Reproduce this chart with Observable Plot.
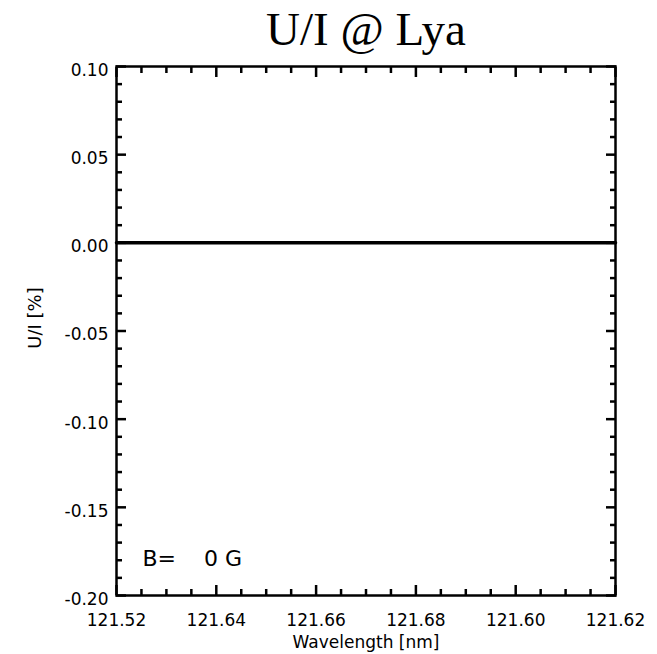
<!DOCTYPE html>
<html>
<head>
<meta charset="utf-8">
<script src="https://cdn.jsdelivr.net/npm/d3@7"></script>
<script src="https://cdn.jsdelivr.net/npm/@observablehq/plot@0.6"></script>
<style>
  html, body { margin: 0; padding: 0; background: #fff; }
  #chart svg { display: block; }
</style>
</head>
<body>
<div id="chart"></div>
<script>
// Data
const wavelength = [121.52, 121.545, 121.57, 121.595, 121.62];
const uOverI = [0, 0, 0, 0, 0];

const xTicks = [121.52, 121.54, 121.56, 121.58, 121.60, 121.62];
const xTickLabels = ["121.52", "121.64", "121.66", "121.68", "121.60", "121.62"];
const xMinorTicks = [121.525, 121.53, 121.535, 121.545, 121.55, 121.555, 121.565, 121.57, 121.575,
  121.585, 121.59, 121.595, 121.605, 121.61, 121.615];

const yTicks = [0.10, 0.05, 0.00, -0.05, -0.10, -0.15, -0.20];
const yTickLabels = ["0.10", "0.05", "0.00", "-0.05", "-0.10", "-0.15", "-0.20"];
const yMinorTicks = [0.09, 0.08, 0.07, 0.06, 0.04, 0.03, 0.02, 0.01, -0.01, -0.02, -0.03, -0.04,
  -0.06, -0.07, -0.08, -0.09, -0.11, -0.12, -0.13, -0.14, -0.16, -0.17, -0.18, -0.19];

const titleText = "U/I @ Lya";
const xLabel = "Wavelength [nm]";
const yLabel = "U/I [%]";
const fieldLabel = "B=\u00a0\u00a0\u00a0\u00a00\u00a0G";

const data = wavelength.map((w, i) => ({w, v: uOverI[i]}));
const xFmt = d => xTickLabels[xTicks.findIndex(t => Math.abs(t - d) < 1e-9)];
const yFmt = d => yTickLabels[yTicks.findIndex(t => Math.abs(t - d) < 1e-9)];

const sans = "DejaVu Sans, sans-serif";

const chart = Plot.plot({
  width: 657,
  height: 654,
  marginLeft: 116,
  marginRight: 42,
  marginTop: 66,
  marginBottom: 59,
  style: {fontFamily: sans, fontSize: "17px", color: "black", background: "white"},
  x: {domain: [121.52, 121.62], label: null},
  y: {domain: [-0.20, 0.10], label: null},
  marks: [
    // major ticks (inward) on all four sides
    Plot.axisX({anchor: "bottom", ticks: xTicks, tickSize: -10, tickFormat: () => "", strokeWidth: 2.5}),
    Plot.axisX({anchor: "top", ticks: xTicks, tickSize: -10, tickFormat: () => "", strokeWidth: 2.5}),
    Plot.axisY({anchor: "left", ticks: yTicks, tickSize: -10, tickFormat: () => "", strokeWidth: 2.5}),
    Plot.axisY({anchor: "right", ticks: yTicks, tickSize: -10, tickFormat: () => "", strokeWidth: 2.5}),
    // minor ticks
    Plot.axisX({anchor: "bottom", ticks: xMinorTicks, tickSize: -6, tickFormat: () => "", strokeWidth: 2.5}),
    Plot.axisX({anchor: "top", ticks: xMinorTicks, tickSize: -6, tickFormat: () => "", strokeWidth: 2.5}),
    Plot.axisY({anchor: "left", ticks: yMinorTicks, tickSize: -6, tickFormat: () => "", strokeWidth: 2.5}),
    Plot.axisY({anchor: "right", ticks: yMinorTicks, tickSize: -6, tickFormat: () => "", strokeWidth: 2.5}),
    // labels
    Plot.axisX({anchor: "bottom", ticks: xTicks, tickSize: 0, tickPadding: 18, tickFormat: xFmt, fontSize: 17, label: null}),
    Plot.axisY({anchor: "left", ticks: yTicks, tickSize: 0, tickPadding: 8, tickFormat: yFmt, fontSize: 17, dy: 4, label: null}),
    Plot.frame({stroke: "black", strokeWidth: 2.5}),
    Plot.line(data, {x: "w", y: "v", stroke: "black", strokeWidth: 3.5}),
    Plot.text([fieldLabel], {frameAnchor: "bottom-left", textAnchor: "start", dx: 26, dy: -30, fontSize: 22, fill: "black"}),
    Plot.text([titleText], {frameAnchor: "top", dy: -55, fontSize: 47, fontFamily: "Liberation Serif, serif", fill: "black"}),
    Plot.text([xLabel], {frameAnchor: "bottom", dy: 52, fontSize: 17, fill: "black"}),
    Plot.text([yLabel], {frameAnchor: "left", textAnchor: "middle", dx: -81, dy: -13, rotate: -90, fontSize: 18, fill: "black"})
  ]
});
document.getElementById("chart").appendChild(chart);
</script>
</body>
</html>
